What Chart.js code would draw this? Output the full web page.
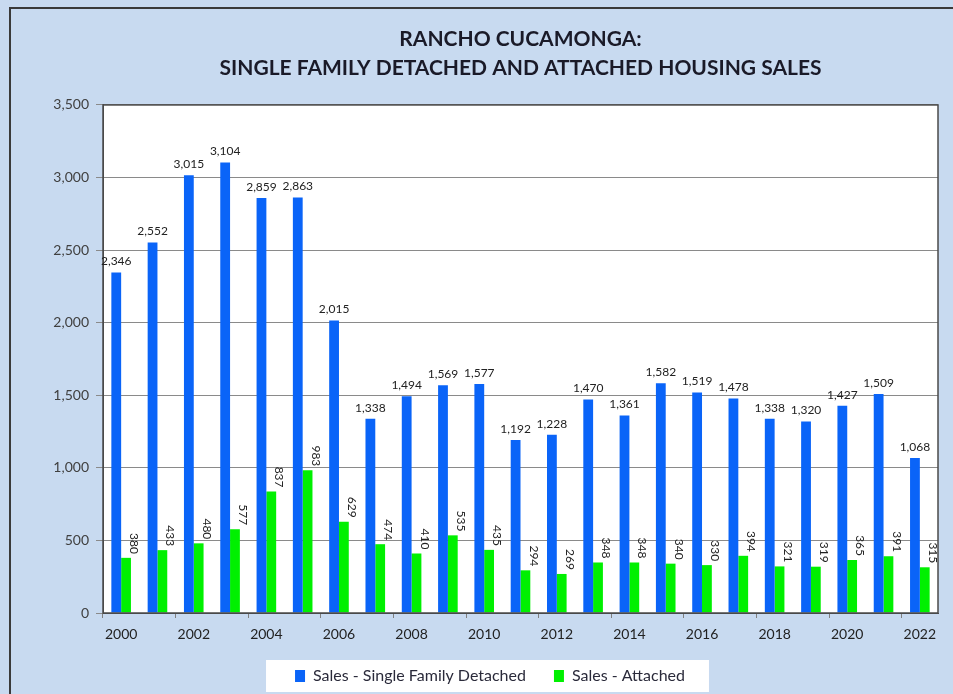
<!DOCTYPE html>
<html>
<head>
<meta charset="utf-8">
<script src="https://cdn.jsdelivr.net/npm/chart.js@4"></script>
<style>
  html, body { margin: 0; padding: 0; background: #fff; }
  canvas { display: block; }
</style>
</head>
<body>
<canvas id="mychart" width="953" height="694"></canvas>
<script>
// Dữ liệu
const years = ["2000","2001","2002","2003","2004","2005","2006","2007","2008","2009","2010","2011",
  "2012","2013","2014","2015","2016","2017","2018","2019","2020","2021","2022"];
const detached = [2346, 2552, 3015, 3104, 2859, 2863, 2015, 1338, 1494, 1569, 1577, 1192,
  1228, 1470, 1361, 1582, 1519, 1478, 1338, 1320, 1427, 1509, 1068];
const attached = [380, 433, 480, 577, 837, 983, 629, 474, 410, 535, 435, 294,
  269, 348, 348, 340, 330, 394, 321, 319, 365, 391, 315];
const titleLines = ["RANCHO CUCAMONGA:", "SINGLE FAMILY DETACHED AND ATTACHED HOUSING SALES"];
const seriesNames = ["Sales - Single Family Detached", "Sales - Attached"];

const FONT = "Lato, 'Liberation Sans', sans-serif";
const fmt = (v) => v.toLocaleString("en-US");

// Nền + khung vùng vẽ
const backdrop = {
  id: "backdrop",
  beforeDraw(chart) {
    const c = chart.ctx, a = chart.chartArea;
    c.save();
    c.fillStyle = "#c8daf0";
    c.fillRect(0, 0, chart.width, chart.height);
    c.strokeStyle = "#3a3a3a";
    c.lineWidth = 2;
    c.strokeRect(10, 8, chart.width + 20, chart.height + 20);
    c.fillStyle = "#ffffff";
    c.fillRect(a.left, a.top, a.right - a.left, a.bottom - a.top);
    // hộp trắng sau chú thích
    const hb = chart.legend.legendHitBoxes;
    if (hb && hb.length) {
      const l = hb[0].left - 29, r = hb[hb.length - 1].left + hb[hb.length - 1].width + 24;
      const t = hb[0].top - 8, h = hb[0].height + 16;
      c.fillRect(l, t, r - l, h);
    }
    c.restore();
  },
  afterDatasetsDraw(chart) {
    const c = chart.ctx, a = chart.chartArea;
    c.save();
    c.strokeStyle = "#4a4a4a";
    c.lineWidth = 1.5;
    c.strokeRect(a.left, a.top, a.right - a.left, a.bottom - a.top);
    c.restore();
  }
};

// Nhãn giá trị trên cột
const barLabels = {
  id: "barLabels",
  afterDatasetsDraw(chart) {
    const c = chart.ctx;
    c.save();
    c.fillStyle = "#222";
    c.font = "12px " + FONT;
    chart.getDatasetMeta(0).data.forEach((bar, i) => {
      c.textAlign = "center";
      c.textBaseline = "bottom";
      c.fillText(fmt(detached[i]), bar.x, bar.y - 5);
    });
    chart.getDatasetMeta(1).data.forEach((bar, i) => {
      c.save();
      c.translate(bar.x + 8, bar.y - 4);
      c.rotate(Math.PI / 2);
      c.textAlign = "right";
      c.textBaseline = "middle";
      c.fillText(fmt(attached[i]), 0, 0);
      c.restore();
    });
    c.restore();
  }
};

const ctx = document.getElementById("mychart").getContext("2d");
const mychart = new Chart(ctx, {
  type: "bar",
  data: {
    labels: years,
    datasets: [
      { label: seriesNames[0], data: detached, backgroundColor: "#0a64f8",
        barPercentage: 1.0, categoryPercentage: 0.54 },
      { label: seriesNames[1], data: attached, backgroundColor: "#00f000",
        barPercentage: 1.0, categoryPercentage: 0.54 },
    ],
  },
  options: {
    responsive: false,
    animation: false,
    layout: { padding: { left: 42, right: 15, top: 25, bottom: 0 } },
    plugins: {
      title: {
        display: true,
        text: titleLines,
        fullSize: false,
        color: "#1a1a28",
        font: { family: FONT, size: 21, weight: "bold", lineHeight: 1.38 },
        padding: { top: 0, bottom: 22 },
      },
      legend: {
        position: "bottom",
        labels: {
          color: "#2a2a3a",
          font: { family: FONT, size: 16 },
          boxWidth: 10,
          boxHeight: 12,
          padding: 28,
        },
      },
      tooltip: { enabled: false },
    },
    scales: {
      x: {
        grid: {
          offset: true,
          drawOnChartArea: false,
          tickLength: 5,
          color: (c) => (c.index % 2 === 0 ? "#808080" : "rgba(0,0,0,0)"),
        },
        border: { color: "#4a4a4a" },
        ticks: {
          autoSkip: false,
          maxRotation: 0,
          padding: 8,
          color: "#222",
          font: { family: FONT, size: 14 },
          callback: (v, i) => (i % 2 === 0 ? years[i] : ""),
        },
        afterFit: (s) => { s.height = 27; },
      },
      y: {
        min: 0,
        max: 3500,
        ticks: {
          stepSize: 500,
          padding: 7,
          color: "#404040",
          font: { family: FONT, size: 14 },
          callback: (v) => fmt(v),
        },
        grid: { color: "#8a8a8a", tickLength: 7 },
        border: { color: "#4a4a4a" },
        afterFit: (s) => { s.width = 61; },
      },
    },
  },
  plugins: [backdrop, barLabels],
});
</script>
</body>
</html>
